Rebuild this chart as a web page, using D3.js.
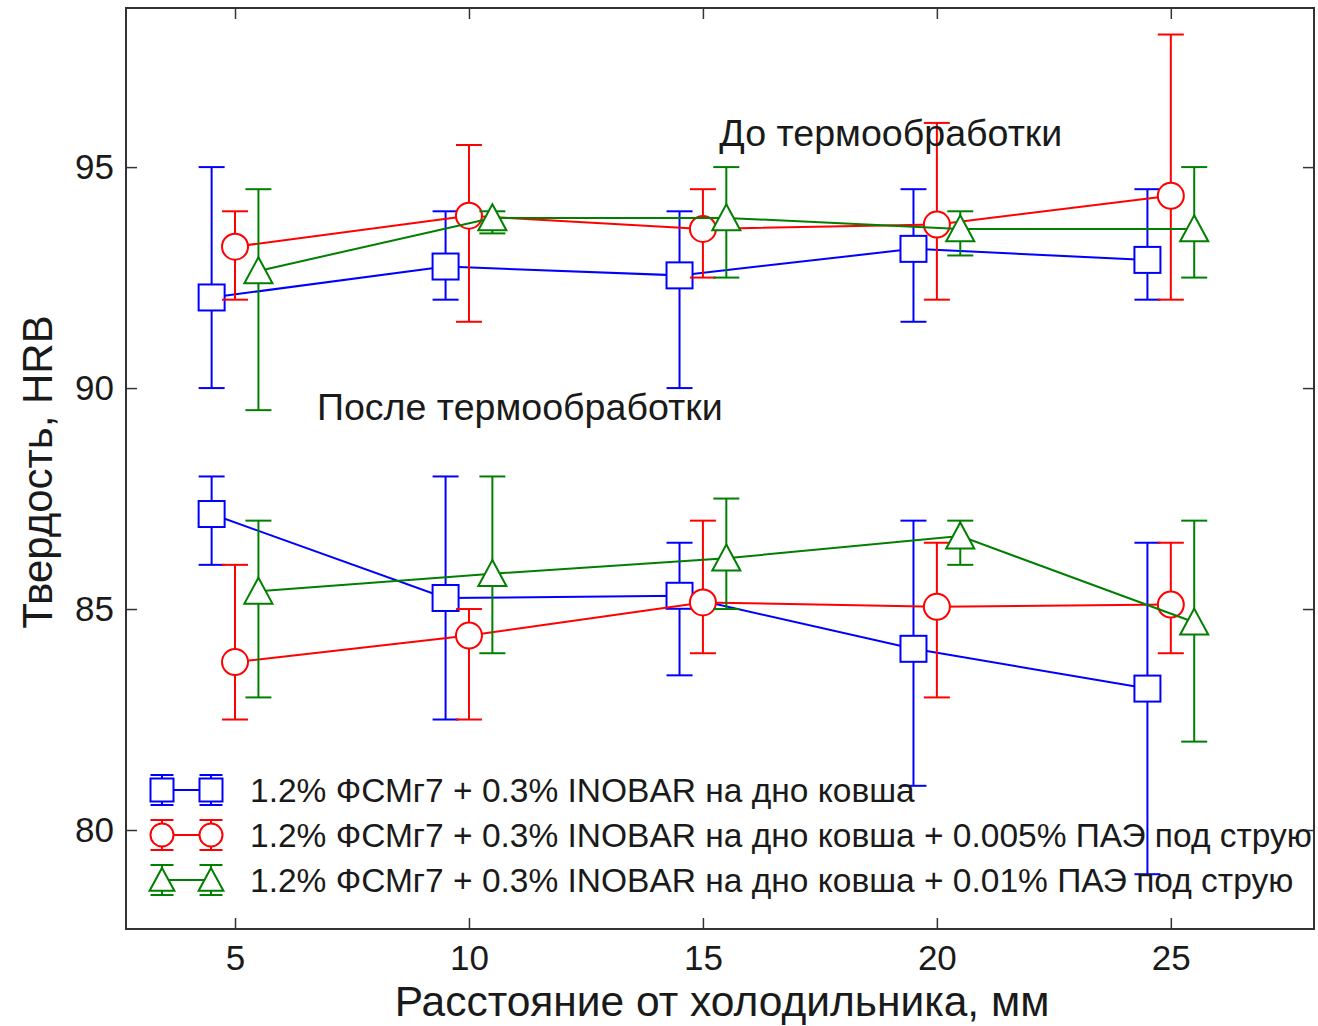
<!DOCTYPE html>
<html>
<head>
<meta charset="utf-8">
<script src="https://cdn.jsdelivr.net/npm/d3@7"></script>
<style>
html,body{margin:0;padding:0;background:#fff;}
svg{display:block;}
text{font-family:"Liberation Sans",Arial,sans-serif;fill:#1a1a1a;}
</style>
</head>
<body>
<svg id="chart" width="1318" height="1026"></svg>
<script>
// ---- data ----
const distances = [5, 10, 15, 20, 25];
const xTicks = [5, 10, 15, 20, 25];
const yTicks = [80, 85, 90, 95];
const seriesNames = [
  "1.2% ФСМг7 + 0.3% INOBAR на дно ковша",
  "1.2% ФСМг7 + 0.3% INOBAR на дно ковша + 0.005% ПАЭ под струю",
  "1.2% ФСМг7 + 0.3% INOBAR на дно ковша + 0.01% ПАЭ под струю"
];
const seriesColors = ["#0000ff", "#ff0000", "#007f00"];
const seriesShapes = ["square", "circle", "triangle"];
const seriesOffsets = [-0.5, 0, 0.5];

// before heat treatment
const blueBefore   = [92.05, 92.75, 92.55, 93.15, 92.9];
const blueBeforeLo = [90.0, 92.0, 90.0, 91.5, 92.0];
const blueBeforeHi = [95.0, 94.0, 94.0, 94.5, 94.5];
const redBefore    = [93.2, 93.9, 93.6, 93.7, 94.35];
const redBeforeLo  = [92.0, 91.5, 92.5, 92.0, 92.0];
const redBeforeHi  = [94.0, 95.5, 94.5, 96.0, 98.0];
const greenBefore   = [92.65, 93.85, 93.85, 93.6, 93.6];
const greenBeforeLo = [89.5, 93.5, 92.5, 93.0, 92.5];
const greenBeforeHi = [94.5, 94.0, 95.0, 94.0, 95.0];

// after heat treatment
const blueAfter   = [87.15, 85.25, 85.3, 84.1, 83.2];
const blueAfterLo = [86.0, 82.5, 83.5, 81.0, 79.0];
const blueAfterHi = [88.0, 88.0, 86.5, 87.0, 86.5];
const redAfter    = [83.8, 84.4, 85.15, 85.05, 85.1];
const redAfterLo  = [82.5, 82.5, 84.0, 83.0, 84.0];
const redAfterHi  = [86.0, 85.0, 87.0, 86.5, 86.5];
const greenAfter   = [85.4, 85.8, 86.15, 86.65, 84.7];
const greenAfterLo = [83.0, 84.0, 85.0, 86.0, 82.0];
const greenAfterHi = [87.0, 88.0, 87.5, 87.0, 87.0];

const annotations = [
  {text: "До термообработки", x: 15.35, y: 95.48},
  {text: "После термообработки", x: 6.75, y: 89.28}
];

// ---- layout ----
const L = 126, R = 1314, T = 8, B = 929;
const x = d3.scaleLinear().domain([2.67, 28.06]).range([L, R]);
const y = d3.scaleLinear().domain([77.76, 98.6]).range([B, T]);
const svg = d3.select("#chart");

const groups = [
  [[blueBefore, blueBeforeLo, blueBeforeHi], [redBefore, redBeforeLo, redBeforeHi], [greenBefore, greenBeforeLo, greenBeforeHi]],
  [[blueAfter, blueAfterLo, blueAfterHi], [redAfter, redAfterLo, redAfterHi], [greenAfter, greenAfterLo, greenAfterHi]]
];

const MS = 13;   // marker half-size
const CAP = 13;  // cap half-width

function drawMarker(g, shape, cx, cy, color, s) {
  if (shape === "square") {
    g.append("rect").attr("x", cx - s).attr("y", cy - s).attr("width", 2 * s).attr("height", 2 * s)
      .attr("fill", "#fff").attr("stroke", color).attr("stroke-width", 2);
  } else if (shape === "circle") {
    g.append("circle").attr("cx", cx).attr("cy", cy).attr("r", s)
      .attr("fill", "#fff").attr("stroke", color).attr("stroke-width", 2);
  } else {
    const h = s * 1.05;
    g.append("path").attr("d", `M${cx},${cy - h}L${cx + s * 1.08},${cy + h * 0.9}L${cx - s * 1.08},${cy + h * 0.9}Z`)
      .attr("fill", "#fff").attr("stroke", color).attr("stroke-width", 2);
  }
}

const plot = svg.append("g");
for (let si = 0; si < 3; si++) {
  const color = seriesColors[si];
  for (const grp of groups) {
    const [vals, lo, hi] = grp[si];
    const pts = distances.map((d, i) => ({x: d + seriesOffsets[si], v: vals[i], lo: lo[i], hi: hi[i]}));
    const g = plot.append("g");
    pts.forEach(p => {
      g.append("line").attr("x1", x(p.x)).attr("x2", x(p.x)).attr("y1", y(p.lo)).attr("y2", y(p.hi))
        .attr("stroke", color).attr("stroke-width", 2);
      [p.lo, p.hi].forEach(e => {
        g.append("line").attr("x1", x(p.x) - CAP).attr("x2", x(p.x) + CAP).attr("y1", y(e)).attr("y2", y(e))
          .attr("stroke", color).attr("stroke-width", 2);
      });
    });
    g.append("path").datum(pts)
      .attr("d", d3.line().x(p => x(p.x)).y(p => y(p.v)))
      .attr("fill", "none").attr("stroke", color).attr("stroke-width", 2);
    pts.forEach(p => drawMarker(g, seriesShapes[si], x(p.x), y(p.v), color, MS));
  }
}

// ---- frame & axes ----
const axisColor = "#333";
svg.append("rect").attr("x", L).attr("y", T).attr("width", R - L).attr("height", B - T)
  .attr("fill", "none").attr("stroke", axisColor).attr("stroke-width", 2);

const tickLen = 11;
const xAxisB = d3.axisBottom(x).tickValues(xTicks).tickSize(-tickLen).tickPadding(16).tickFormat(d3.format("d"));
const xAxisT = d3.axisTop(x).tickValues(xTicks).tickSize(-tickLen).tickFormat("");
const yAxisL = d3.axisLeft(y).tickValues(yTicks).tickSize(-tickLen).tickPadding(12).tickFormat(d3.format("d"));
const yAxisR = d3.axisRight(y).tickValues(yTicks).tickSize(-tickLen).tickFormat("");

function styleAxis(g) {
  g.select(".domain").remove();
  g.selectAll(".tick line").attr("stroke", axisColor).attr("stroke-width", 1.5);
  g.selectAll(".tick text").attr("font-size", 35).attr("font-family", "Liberation Sans, Arial, sans-serif").attr("fill", "#1a1a1a");
}
svg.append("g").attr("transform", `translate(0,${B})`).call(xAxisB).call(styleAxis);
svg.append("g").attr("transform", `translate(0,${T})`).call(xAxisT).call(styleAxis);
svg.append("g").attr("transform", `translate(${L},0)`).call(yAxisL).call(styleAxis);
svg.append("g").attr("transform", `translate(${R},0)`).call(yAxisR).call(styleAxis);

// axis titles
svg.append("text").attr("x", 722).attr("y", 1016).attr("text-anchor", "middle")
  .attr("font-size", 42.5).text("Расстояние от холодильника, мм");
svg.append("text").attr("transform", `translate(52,${472}) rotate(-90)`).attr("text-anchor", "middle")
  .attr("font-size", 42).text("Твердость, HRB");

// annotations
annotations.forEach(a => {
  svg.append("text").attr("x", x(a.x)).attr("y", y(a.y)).attr("text-anchor", "start")
    .attr("font-size", 37.6).text(a.text);
});

// ---- legend ----
const legend = svg.append("g");
const legRows = [790, 835, 880];
seriesNames.forEach((name, i) => {
  const cy = legRows[i];
  const color = seriesColors[i];
  const g = legend.append("g");
  const xs = [162, 211];
  const s = 11.5;
  g.append("line").attr("x1", xs[0]).attr("x2", xs[1]).attr("y1", cy).attr("y2", cy)
    .attr("stroke", color).attr("stroke-width", 2);
  xs.forEach(cx => {
    g.append("line").attr("x1", cx).attr("x2", cx).attr("y1", cy - 15).attr("y2", cy + 15)
      .attr("stroke", color).attr("stroke-width", 2);
    [-15, 15].forEach(dy => g.append("line").attr("x1", cx - s).attr("x2", cx + s)
      .attr("y1", cy + dy).attr("y2", cy + dy).attr("stroke", color).attr("stroke-width", 2));
    drawMarker(g, seriesShapes[i], cx, cy, color, s);
  });
  g.append("text").attr("x", 250).attr("y", cy).attr("dy", "0.35em").attr("font-size", 33.5).text(name);
});
</script>
</body>
</html>
